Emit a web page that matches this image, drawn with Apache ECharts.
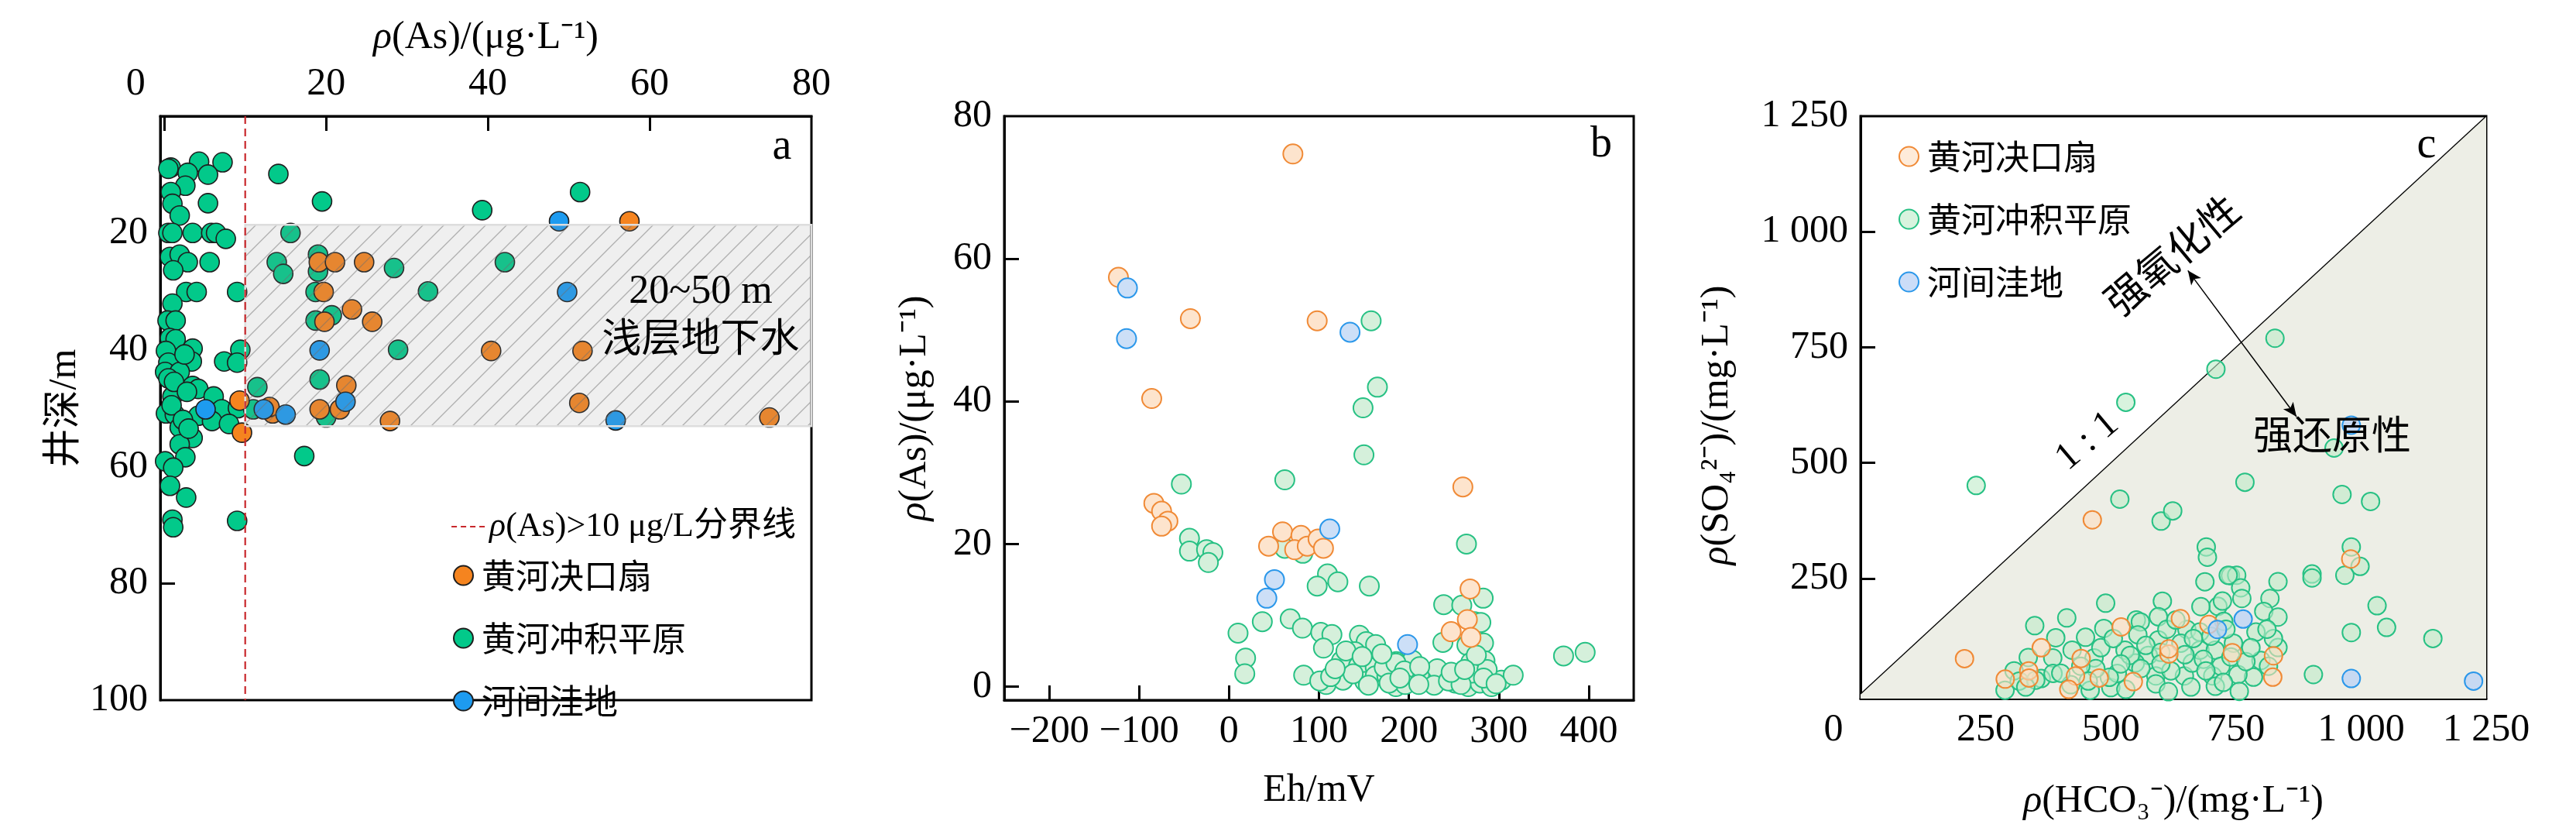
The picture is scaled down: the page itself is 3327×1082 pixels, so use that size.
<!DOCTYPE html>
<html>
<head>
<meta charset="utf-8">
<title>As / Eh / SO4-HCO3</title>
<script src="https://cdn.jsdelivr.net/npm/echarts@6.0.0/dist/echarts.min.js"></script>
<style>
html, body { margin: 0; padding: 0; background: #fff; }
#main { width: 3327px; height: 1082px; }
</style>
</head>
<body>
<div id="main"></div>
<script>
// ---------- data ----------
// panel a : [As ug/L, well depth m]
const aGreen = [
  [0.8,8.8],[4.3,7.8],[7.2,7.9],[0.5,9.0],[2.9,9.7],[5.4,10.0],[2.6,11.9],[0.8,13.0],[1.0,15.0],[1.9,17.0],
  [5.4,14.9],[14.1,9.9],[19.5,14.6],[0.5,20.0],[1.0,20.0],[3.5,20.0],[5.8,20.0],[6.4,20.0],[7.6,21.0],[15.6,20.0],
  [0.7,24.1],[1.9,23.7],[2.9,25.0],[1.1,26.4],[5.6,25.0],[13.9,25.0],[14.7,27.0],[19.0,23.7],[19.0,26.6],[28.4,26.0],
  [2.7,30.1],[4.0,30.1],[9.0,30.1],[18.7,30.1],[1.0,32.1],[0.4,35.0],[1.4,35.0],[18.7,35.0],[20.7,34.1],
  [0.7,38.0],[1.4,38.2],[0.2,40.2],[3.5,39.8],[3.4,42.0],[0.5,42.2],[0.1,43.8],[1.9,43.8],[0.5,44.9],[3.5,46.2],
  [4.2,46.7],[1.0,48.0],[6.1,48.0],[0.2,50.9],[1.3,51.1],[4.2,51.3],[7.1,50.2],[9.1,50.0],[5.9,52.2],[8.0,52.7],
  [9.4,40.0],[7.4,42.0],[9.0,42.2],[1.9,53.3],[3.5,55.1],[1.9,56.2],[2.6,58.4],[0.1,59.1],[1.1,60.2],[0.7,63.3],
  [2.7,65.3],[1.0,69.1],[1.1,70.4],[9.0,69.3],[17.3,58.2],[11.5,46.4],[11.0,50.2],[19.2,45.1],[20.0,51.6],[28.9,40.0],
  [39.3,16.1],[51.4,13.0],[42.1,25.0],[32.6,30.0],[2.5,40.8],[1.2,45.5],[2.8,47.2],[0.9,49.5],[2.3,52.0],[3.0,53.5]
];
const aOrange = [
  [57.5,18.0],[19.1,25.0],[21.1,25.0],[24.7,25.0],[19.7,30.1],[19.8,35.2],[23.2,33.1],[25.7,35.2],[40.4,40.2],
  [51.7,40.2],[22.5,46.1],[19.2,50.2],[21.7,50.2],[27.9,52.2],[51.3,49.1],[74.8,51.6],[9.6,54.2],[9.3,48.7],
  [13.4,50.9],[13.0,49.8]
];
const aBlue = [[48.8,18.0],[49.8,30.1],[19.2,40.1],[22.4,48.9],[12.3,50.2],[15.0,51.1],[55.8,52.1],[5.1,50.2]];
const aBand = [10, 18.6, 80, 53.1];      // shallow groundwater band: x0, depth0, x1, depth1
const aLimit = [[10, 0], [10, 100]];     // As = 10 ug/L line

// panel b : [Eh mV, As ug/L]
const bGreen = [
  [158,51.3],[165,42.0],[149,39.1],[150,32.5],[62,29.0],[-53,28.4],[264,20.0],[-44,20.8],[-44,19.0],[-25,19.2],
  [-18,18.8],[-23,17.4],[62,19.4],[82,18.7],[109.5,15.8],[121,14.7],[98,14.1],[156,14.1],[238.7,11.5],[258.8,11.4],
  [282.6,12.4],[273,9.1],[280,9.0],[10,7.5],[18.4,4.0],[17.5,1.8],[37,9.1],[68,9.5],[81.6,8.2],[102,7.6],
  [114.4,7.3],[237.8,6.2],[264.5,5.8],[283,6.1],[284.6,3.6],[268.8,3.4],[372,4.3],[396,4.8],[83,1.6],[105,5.4],
  [145,7.2],[152.5,6.3],[163,5.9],[140,4.9],[125,3.6],[144,2.9],[162.6,2.7],[186,3.5],[204,3.7],[108,0.3],
  [100.9,0.8],[126.7,0.9],[151,0.7],[162.6,1.5],[175.5,1.5],[185.6,0],[205.7,0.9],[217,1.8],[224,0.9],[233,1.5],
  [241.5,1.8],[251.6,0.5],[266,0],[279,0.5],[291.8,0],[303,0.9],[316,1.6],[138,1.8],[172.6,2.7],[185.6,3.3],
  [257,1.5],[231.5,2.5],[113,1.4],[130,5.0],[148,4.2],[170,4.6],[195,2.2],[212,2.8],[196,0.3],[228,0.2],
  [244,0.8],[270,1.9],[287,2.4],[155,0.2],[178,0.5],[118,2.5],[258,0.3],[283,1.2],[297,0.4],[211,0.3],
  [190,1.2],[247,2.0],[275,4.4],[262,2.4]
];
const bOrange = [
  [71,74.7],[-123,57.4],[-43,51.6],[98,51.3],[-86,40.4],[-83.6,25.7],[-75,24.6],[-68,23.2],[-75,22.5],[44,19.7],
  [59.5,21.7],[80,21.2],[73,19.2],[87,19.7],[99,20.7],[105,19.4],[260,28.0],[268,13.7],[265,9.4],[247,7.7],[269,6.9]
];
const bBlue = [[-113,55.9],[-114,48.8],[134.5,49.7],[112,22.1],[50.5,15.0],[42,12.4],[198.5,5.9]];

// panel c : [HCO3 mg/L, SO4 mg/L]
const cGreen = [
  [828,769.5],[710,702.6],[530,631],[231,451],[768,458],[518,421.4],[962,431.5],[1019,416.5],[600.5,374],[623.7,396],
  [946,532],[980.5,318],[690.7,318],[693,295.8],[902,259.6],[902,251],[967.6,256.8],[998,276],[834,243],[688,242.7],
  [739,256],[751.5,256.8],[759.5,229.6],[818,206.6],[805.6,178.7],[834,166.4],[1032,191],[1051,144],[1143.5,120],[980.5,132.9],
  [904.8,41.9],[790,134],[714,189.7],[680,189],[725.6,157],[761.8,206.6],[723,201],[603,200.9],[489.7,196.4],[412,164.6],
  [348,147.8],[486,141.7],[390,121.6],[449.5,122.7],[551,160],[559,156],[595,167],[554,128],[595,117],[575,83.6],
  [549,66.9],[590,39],[590,22],[647,39],[662.5,66.9],[678,94.8],[652,139.5],[678,133.9],[708.8,94.8],[703.6,39],
  [708.8,16.6],[734.6,256.7],[335,79],[384,78],[306.7,50],[288.7,8.2],[317,27.8],[361,33.4],[384.6,44.5],[422.7,94.8],
  [466.5,78],[458.8,8.2],[500,13.8],[513,44.5],[528.4,94.8],[497,36],[538.7,83.6],[834,100.5],[800,72.6],[785,36.3],
  [754,41.9],[756.7,5.6],[620,50],[640,110],[612,140],[630,160],[665,120],[700,125],[745,110],[720,60],
  [740,80],[770,70],[660,15],[615,5],[560,55],[530,10],[470,55],[420,20],[400,45],[440,60],
  [480,100],[505,120],[520,65],[570,105],[600,90],[685,75],[730,140],[780,100],[815,60],[825,120],
  [350,30],[330,15],[455,28],[600,65],[648,85],[690,50],[725,25],[812,140]
];
const cOrange = [
  [463,376.7],[207.7,76.4],[289,32.2],[336,50],[336.5,34.5],[361,100],[440.7,76.9],[429.4,39],[476.8,34.5],[416,10],
  [545,26.7],[520.6,145],[616,86.4],[616,97.6],[639,163],[696,150.6],[979.4,292],[825,82.6],[823.6,36.3],[742.8,89.3]
];
const cBlue = [[980.5,581.5],[764.4,162],[713,139.6],[980.5,33.5],[1224.8,27.9]];
const cOneToOne = [[0, 0], [1250, 1250]];
const cShade = [[0, 0], [1250, 1250], [1250, -10], [0, -10]];
const cArrow = [[654, 916], [871, 600]];

// tick values
const aTopTicks = [0, 20, 40, 60, 80];
const aDepthTicks = [20, 40, 60, 80, 100];
const bEhTicks = [-200, -100, 0, 100, 200, 300, 400];
const bAsTicks = [0, 20, 40, 60, 80];
const cTicks = [0, 250, 500, 750, 1000, 1250];

const groups = ['黄河决口扇', '黄河冲积平原', '河间洼地'];
const limitName = 'ρ(As)>10 μg/L分界线';

// ---------- style ----------
const FONT = "'Liberation Serif', 'Noto Sans CJK SC', serif";
const CJK = "'Noto Sans CJK SC', sans-serif";
const italic = { fontStyle: 'italic', fontFamily: FONT, fontSize: 50 };

// diagonal hatching for the 20~50 m band
function makeHatch() {
  const s = 27;
  const cv = document.createElement('canvas');
  cv.width = s; cv.height = s;
  const ctx = cv.getContext('2d');
  ctx.fillStyle = 'rgba(150,150,150,0.15)';
  ctx.fillRect(0, 0, s, s);
  ctx.strokeStyle = 'rgba(110,110,110,0.5)';
  ctx.lineWidth = 1.3;
  ctx.beginPath();
  ctx.moveTo(0, s); ctx.lineTo(s, 0);
  ctx.moveTo(-2, 2); ctx.lineTo(2, -2);
  ctx.moveTo(s - 2, s + 2); ctx.lineTo(s + 2, s - 2);
  ctx.stroke();
  return { image: cv, repeat: 'repeat' };
}
const hatch = makeHatch();

function fmtK(v) {
  if (v >= 1000) return Math.floor(v / 1000) + ' ' + String(v % 1000).padStart(3, '0');
  return String(v);
}

function makeAxis(o) {
  const label = { color: '#000', fontSize: 50, fontFamily: FONT, margin: 16, customValues: o.labels, formatter: o.formatter };
  if (o.zeroShift) {
    label.rich = { z: { fontSize: 50, fontFamily: FONT, color: '#000', padding: [0, o.zeroShift, 0, 0] } };
  }
  return Object.assign({
    type: 'value',
    axisLine: { show: true, onZero: false, lineStyle: { color: '#000', width: 3 } },
    axisTick: { show: true, inside: true, length: 19, lineStyle: { color: '#000', width: 3 }, customValues: o.ticks },
    axisLabel: label,
    splitLine: { show: false },
    nameLocation: 'middle',
    nameTextStyle: { color: '#000', fontSize: 50, fontFamily: FONT, rich: { i: italic }, padding: o.namePad || 0 }
  }, o.extra);
}

function scatterA(name, data, color) {
  return { name: name, type: 'scatter', xAxisIndex: 0, yAxisIndex: 0, data: data, symbolSize: 25,
    itemStyle: { color: color, borderColor: '#1e1e1e', borderWidth: 1.6, opacity: 1 } };
}
function scatterLight(name, data, fill, border, idx, size) {
  return { name: name, type: 'scatter', xAxisIndex: idx, yAxisIndex: idx, data: data, symbolSize: size,
    itemStyle: { color: fill, borderColor: border, borderWidth: 2, opacity: 1 } };
}

var myChart = echarts.init(document.getElementById('main'));

var option = {
  animation: false,
  backgroundColor: '#fff',
  textStyle: { fontFamily: FONT },
  grid: [
    { left: 207, right: 2279, top: 150, bottom: 178, show: true, borderColor: '#000', borderWidth: 3 },
    { left: 1297, right: 1217, top: 150, bottom: 178, show: true, borderColor: '#000', borderWidth: 3 },
    { left: 2403, right: 116, top: 150, bottom: 180, show: true, borderColor: '#000', borderWidth: 3 }
  ],
  xAxis: [
    makeAxis({ ticks: [0, 20, 40, 60], labels: aTopTicks, zeroShift: 74,
      formatter: v => v === 0 ? '{z|0}' : String(v),
      extra: { gridIndex: 0, position: 'top', min: -0.5, max: 80, name: '{i|ρ}(As)/(μg·L⁻¹)', nameGap: 76 } }),
    makeAxis({ ticks: bEhTicks, labels: bEhTicks,
      formatter: v => v < 0 ? '\u2212' + Math.abs(v) : String(v),
      extra: { gridIndex: 1, min: -250, max: 450, name: 'Eh/mV', nameGap: 92 } }),
    makeAxis({ ticks: [250, 500, 750, 1000], labels: cTicks, zeroShift: 70,
      formatter: v => v === 0 ? '{z|0}' : fmtK(v),
      extra: { gridIndex: 2, min: 0, max: 1250, name: '{i|ρ}(HCO₃⁻)/(mg·L⁻¹)', nameGap: 108 } })
  ],
  yAxis: [
    makeAxis({ ticks: [20, 40, 60, 80], labels: aDepthTicks,
      extra: { gridIndex: 0, inverse: true, min: 0, max: 100, name: '井深/m', nameRotate: 90, nameGap: 98 } }),
    makeAxis({ ticks: [0, 20, 40, 60], labels: bAsTicks,
      extra: { gridIndex: 1, min: -1.9, max: 80, name: '{i|ρ}(As)/(μg·L⁻¹)', nameRotate: 90, nameGap: 90 } }),
    makeAxis({ ticks: [0, 250, 500, 750, 1000], labels: [250, 500, 750, 1000, 1250], formatter: fmtK,
      namePad: [0, 46, 0, 0],
      extra: { gridIndex: 2, min: -10, max: 1250, name: '{i|ρ}(SO₄²⁻)/(mg·L⁻¹)', nameRotate: 90, nameGap: 160 } })
  ],
  legend: [
    { data: [limitName], left: 577, top: 653, itemWidth: 44, itemHeight: 25, selectedMode: false,
      itemStyle: { opacity: 0 },
      lineStyle: { type: [7, 5], width: 2.2, opacity: 1 },
      formatter: () => '{i|ρ}(As)>10 μg/L分界线',
      textStyle: { fontSize: 44, fontFamily: FONT, color: '#000', rich: { i: { fontStyle: 'italic', fontSize: 44, fontFamily: FONT } } } },
    { data: groups, orient: 'vertical', left: 580, top: 716, itemGap: 37, itemWidth: 37, itemHeight: 25, selectedMode: false,
      textStyle: { fontSize: 44, fontFamily: CJK, color: '#000' } },
    { data: groups.map(n => n + '\u200b\u200b'), orient: 'vertical', left: 2447, top: 175, itemGap: 37, itemWidth: 37, itemHeight: 25,
      selectedMode: false, formatter: n => n.replace(/\u200b/g, ''),
      textStyle: { fontSize: 44, fontFamily: CJK, color: '#000' } }
  ],
  graphic: [
    { type: 'text', x: 1010, y: 190, style: { text: 'a', fontSize: 56, fontFamily: FONT, fill: '#000', align: 'center', verticalAlign: 'middle', textAlign: 'center', textVerticalAlign: 'middle' } },
    { type: 'text', x: 2068, y: 187, style: { text: 'b', fontSize: 56, fontFamily: FONT, fill: '#000', align: 'center', verticalAlign: 'middle', textAlign: 'center', textVerticalAlign: 'middle' } },
    { type: 'text', x: 3134, y: 188, style: { text: 'c', fontSize: 56, fontFamily: FONT, fill: '#000', align: 'center', verticalAlign: 'middle', textAlign: 'center', textVerticalAlign: 'middle' } },
    { type: 'text', x: 905, y: 377, z: 10, style: { text: '20~50 m', fontSize: 52, fontFamily: FONT, fill: '#000', align: 'center', verticalAlign: 'middle', textAlign: 'center', textVerticalAlign: 'middle' } },
    { type: 'text', x: 905, y: 435, z: 10, style: { text: '浅层地下水', fontSize: 51, fontFamily: CJK, fill: '#000', align: 'center', verticalAlign: 'middle', textAlign: 'center', textVerticalAlign: 'middle' } },
    { type: 'text', x: 2805, y: 329, rotation: 40 * Math.PI / 180, z: 10, style: { text: '强氧化性', fontSize: 52, fontFamily: CJK, fill: '#000', align: 'center', verticalAlign: 'middle', textAlign: 'center', textVerticalAlign: 'middle' } },
    { type: 'text', x: 2696, y: 570, rotation: 40 * Math.PI / 180, z: 10, style: { text: '1 : 1', fontSize: 50, fontFamily: FONT, fill: '#000', align: 'center', verticalAlign: 'middle', textAlign: 'center', textVerticalAlign: 'middle' } },
    { type: 'text', x: 3012, y: 561, z: 10, style: { text: '强还原性', fontSize: 51, fontFamily: CJK, fill: '#000', align: 'center', verticalAlign: 'middle', textAlign: 'center', textVerticalAlign: 'middle' } }
  ],
  series: [
    // ----- panel a -----
    scatterA(groups[1], aGreen, '#02C98A'),
    scatterA(groups[0], aOrange, '#F5841F'),
    scatterA(groups[2], aBlue, '#1D9BF0'),
    {
      type: 'custom', xAxisIndex: 0, yAxisIndex: 0, z: 3, silent: true,
      data: [aBand], encode: { x: [0, 2], y: [1, 3] },
      renderItem: function (params, api) {
        const p0 = api.coord([api.value(0), api.value(1)]);
        const p1 = api.coord([api.value(2), api.value(3)]);
        return { type: 'rect', shape: { x: p0[0], y: p0[1], width: p1[0] - p0[0], height: p1[1] - p0[1] },
          style: { fill: hatch, stroke: '#dddddd', lineWidth: 2.5 } };
      }
    },
    {
      name: limitName, type: 'line', xAxisIndex: 0, yAxisIndex: 0, z: 4, data: aLimit, symbol: 'none', silent: true,
      itemStyle: { color: '#C8282C' },
      lineStyle: { color: '#C8282C', width: 2.2, type: [10, 6] }
    },
    // ----- panel b -----
    scatterLight(groups[1] + '\u200b', bGreen, '#D5F0DB', '#27C184', 1, 25),
    scatterLight(groups[0] + '\u200b', bOrange, '#FDE4CD', '#F08A36', 1, 25),
    scatterLight(groups[2] + '\u200b', bBlue, '#CCDFF7', '#2A97EA', 1, 25),
    // ----- panel c -----
    {
      type: 'custom', xAxisIndex: 2, yAxisIndex: 2, z: 1, silent: true, data: [[0, 0]],
      renderItem: function (params, api) {
        return { type: 'polygon', shape: { points: cShade.map(p => api.coord(p)) }, style: { fill: '#EDEEE6' } };
      }
    },
    {
      type: 'line', xAxisIndex: 2, yAxisIndex: 2, z: 1, data: cOneToOne, symbol: 'none', silent: true,
      lineStyle: { color: '#000', width: 1.3 },
      markLine: {
        silent: true, symbol: ['arrow', 'arrow'], symbolSize: [12, 18], label: { show: false },
        lineStyle: { color: '#000', width: 1.5, type: 'solid' },
        data: [[{ coord: cArrow[0] }, { coord: cArrow[1] }]]
      }
    },
    scatterLight(groups[1] + '\u200b\u200b', cGreen, 'rgba(190,235,200,0.6)', '#27C184', 2, 23),
    scatterLight(groups[0] + '\u200b\u200b', cOrange, 'rgba(253,222,192,0.6)', '#F08A36', 2, 23),
    scatterLight(groups[2] + '\u200b\u200b', cBlue, 'rgba(185,210,245,0.75)', '#2A97EA', 2, 23)
  ]
};

myChart.setOption(option);
</script>
</body>
</html>
